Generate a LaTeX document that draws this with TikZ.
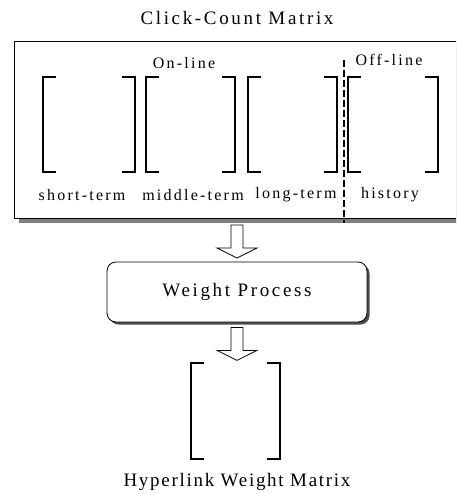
\documentclass[tikz,border=0pt]{standalone}
\usepackage{fontspec}
\setmainfont{Liberation Serif}
\usetikzlibrary{positioning}

\begin{document}
\begin{tikzpicture}[x=1pt, y=-1pt,
    every node/.append style={align=center, inner sep=0pt},
    lbl/.style={font=\fontsize{16}{18}\selectfont\addfontfeature{LetterSpace=14}},
    ttl/.style={font=\fontsize{19}{21}\selectfont\addfontfeature{LetterSpace=14}},
    brk/.style={line width=1.8pt},
    blk/.style={draw, line width=0.8pt, fill=white},
    proc/.style={rounded corners=9pt, minimum width=260pt, minimum height=60pt},
    down/.pic={\draw[line width=0.8pt, fill=white] (-6,0) -- (-6,23) -- (-20,23)
        -- (0,33) -- (20,23) -- (6,23) -- (6,0) -- cycle;}]
   \useasboundingbox (0,0) rectangle (456,494);
   \clip (0,0) rectangle (456,494);
   % click-count matrix
   \node [ttl] (ccm) at (237,18) {Click-Count Matrix};
   \fill[gray] (19,46) rectangle (465,223);
   \draw[blk] (14,41) rectangle (460,218);
   \foreach \l/\r in {43/135, 146/235, 248/337, 348/438} {
      \draw[brk] (\l+13,77) -| (\l,172) -- ++(13,0);
      \draw[brk] (\r-13,77) -| (\r,172) -- ++(-13,0);
   }
   \node [lbl] (on)  at (184,63) {On-line};
   \node [lbl] (off) at (389,60) {Off-line};
   \node [lbl] (st) at (82,195)  {short-term};
   \node [lbl] (mt) at (193,195) {middle-term};
   \node [lbl] (lt) at (296,195) {long-term};
   \node [lbl] (hi) at (390,195) {history};
   \coordinate (cut1) at (344,60);
   \coordinate (cut2) at (344,223);
   \draw[line width=1.2pt, dash pattern=on 7pt off 3pt] (cut1) -- (cut2);
   % weight process
   \coordinate (a1) at (237,225);
   \pic at (a1) {down};
   \node [proc, fill=gray!60!black] (wps) at (239.5,294.5) {};
   \node [proc, ttl, draw, line width=0.8pt, fill=white] (wp) at (237,292) {Weight Process};
   \pic at ([yshift=-5pt]wp.south) {down};
   % hyperlink weight matrix
   \draw[brk] (204,363) -| (191,459) -- ++(13,0);
   \draw[brk] (267,363) -| (280,459) -- ++(-13,0);
   \node [ttl, font=\fontsize{19}{21}\selectfont\addfontfeature{LetterSpace=9}] (hwm) at (237,482)
      {Hyperlink Weight Matrix};
\end{tikzpicture}
\end{document}
